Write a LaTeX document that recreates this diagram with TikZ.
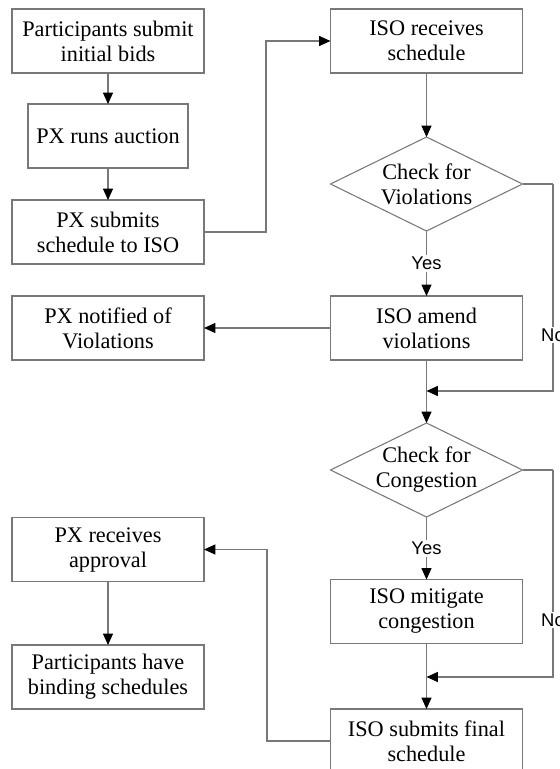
\documentclass[tikz,border=0pt]{standalone}
\usepackage{fontspec}
\setmainfont{Liberation Serif}
\newfontfamily\labelfont{Liberation Sans}
\usetikzlibrary{shapes.geometric,arrows.meta}
\definecolor{edgegray}{RGB}{120,120,120}
\begin{document}
\begin{tikzpicture}[x=0.75pt,y=-0.75pt,
  every node/.style={inner sep=0pt, outer sep=0pt},
  stepbox/.style={draw=edgegray, line width=0.8pt, minimum width=144pt,
    minimum height=48pt, align=center, font=\fontsize{16.7}{18.75}\selectfont},
  decision/.style={draw=edgegray, line width=0.8pt, diamond,
    minimum width=144pt, minimum height=70.5pt},
  decisiontext/.style={align=center, font=\fontsize{16.7}{18.75}\selectfont},
  flow/.style={draw=edgegray, line width=0.8pt,
    -{Triangle[length=8.5pt,width=7.5pt,color=black]}},
  link/.style={draw=edgegray, line width=0.8pt},
  answer/.style={fill=white, inner sep=1.5pt, font=\labelfont\fontsize{13.8}{15}\selectfont}
]
\useasboundingbox (0,0) rectangle (560,769);
\clip (0,0) rectangle (560,769);

% left column
\node[stepbox] (p1) at (108,41) {Participants submit\\initial bids};
\node[stepbox, minimum width=120pt] (p2) at (108,136) {PX runs auction};
\node[stepbox] (p3) at (108,232) {PX submits\\schedule to ISO};
\node[stepbox] (notified) at (108,328) {PX notified of\\Violations};
\node[stepbox] (pxrec) at (108,549.5) {PX receives\\approval};
\node[stepbox] (binding) at (108,677) {Participants have\\binding schedules};

% right column
\node[stepbox] (isorec) at (426.5,41) {ISO receives\\schedule};
\node[decision] (d1) at (426.5,184) {};
\node[decisiontext] (d1t) at (d1.center) {Check for\\Violations};
\node[stepbox] (amend) at (426.5,328) {ISO amend\\violations};
\node[decision] (d2) at (426.5,470) {};
\node[decisiontext] (d2t) at (d2.center) {Check for\\Congestion};
\node[stepbox] (mitigate) at (426.5,611.5) {ISO mitigate\\congestion};
\node[stepbox] (final) at (426.5,741) {ISO submits final\\schedule};

% routing points
\coordinate (c1) at (266,41);
\coordinate (r1) at (553,184);
\coordinate (m1) at (426.5,391);
\coordinate (r2) at (553,470);
\coordinate (m2) at (426.5,677);
\coordinate (c2) at (267,549.5);

% connectors
\draw[flow] (p1) -- (p2);
\draw[flow] (p2) -- (p3);
\draw[flow] (p3.east) -| (c1) -- (isorec.west);
\draw[flow] (isorec) -- (d1);
\draw[flow] (d1) -- node[answer] {Yes} (amend);
\draw[flow] (amend.west) -- (notified.east);
\draw[link] (amend) -- (m1);
\draw[flow] (m1) -- (d2);
\draw[link] (d1.east) -- (r1);
\draw[flow] (r1) |- (m1);
\node[answer] (no1) at (553,335) {No};
\draw[flow] (d2) -- node[answer] {Yes} (mitigate);
\draw[link] (mitigate) -- (m2);
\draw[flow] (m2) -- (final);
\draw[link] (d2.east) -- (r2);
\draw[flow] (r2) |- (m2);
\node[answer] (no2) at (553,620) {No};
\draw[flow] (final.west) -| (c2) -- (pxrec.east);
\draw[flow] (pxrec) -- (binding);
\end{tikzpicture}
\end{document}
